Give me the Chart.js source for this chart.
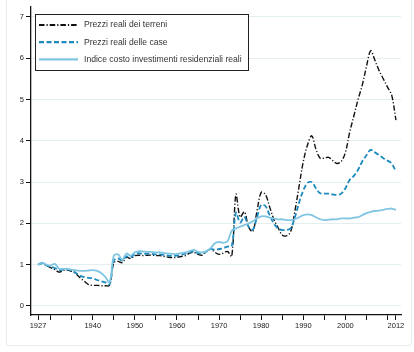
<!DOCTYPE html>
<html>
<head>
<meta charset="utf-8">
<script src="https://cdn.jsdelivr.net/npm/chart.js@4/dist/chart.umd.min.js"></script>
<style>
  html, body { margin: 0; padding: 0; background: #fff; overflow: hidden; }
  #wrap { position: relative; width: 414px; height: 352px; }
  #frame { position: absolute; left: 6px; top: -6px; width: 404px; height: 350px;
           border: 1px solid #e4ecee; border-radius: 3px; }
  canvas { position: absolute; left: 0; top: 0; }
</style>
</head>
<body>
<div id="wrap">
  <div id="frame"></div>
  <canvas id="chart" width="414" height="352"></canvas>
</div>
<script>
const years = [
  1927, 1928, 1929, 1930, 1931, 1932, 1933, 1934, 1935, 1936,
  1937, 1938, 1939, 1940, 1941, 1942, 1943, 1944, 1945, 1946,
  1947, 1948, 1949, 1950, 1951, 1952, 1953, 1954, 1955, 1956,
  1957, 1958, 1959, 1960, 1961, 1962, 1963, 1964, 1965, 1966,
  1967, 1968, 1969, 1970, 1971, 1972, 1973, 1974, 1975, 1976,
  1977, 1978, 1979, 1980, 1981, 1982, 1983, 1984, 1985, 1986,
  1987, 1988, 1989, 1990, 1991, 1992, 1993, 1994, 1995, 1996,
  1997, 1998, 1999, 2000, 2001, 2002, 2003, 2004, 2005, 2006,
  2007, 2008, 2009, 2010, 2011, 2012
];

// Prezzi reali dei terreni
const terreni = [
  1.00, 1.05, 0.98, 0.93, 0.88, 0.82, 0.86, 0.87, 0.84, 0.78,
  0.68, 0.60, 0.52, 0.50, 0.50, 0.49, 0.49, 0.50, 1.05, 1.08,
  1.05, 1.18, 1.15, 1.22, 1.23, 1.22, 1.23, 1.23, 1.22, 1.22,
  1.20, 1.18, 1.17, 1.18, 1.20, 1.22, 1.28, 1.30, 1.25, 1.23,
  1.32, 1.38, 1.30, 1.25, 1.28, 1.32, 1.20, 2.70, 2.15, 2.28,
  1.92, 1.80, 2.30, 2.75, 2.70, 2.40, 2.10, 1.90, 1.72, 1.70,
  1.80, 2.30, 2.90, 3.50, 3.90, 4.12, 3.80, 3.58, 3.58, 3.60,
  3.52, 3.45, 3.50, 3.72, 4.20, 4.60, 5.00, 5.35, 5.80, 6.18,
  5.95, 5.70, 5.50, 5.30, 5.10, 4.50
];

// Prezzi reali delle case
const case_ = [
  1.00, 1.03, 0.98, 0.95, 0.92, 0.87, 0.88, 0.88, 0.86, 0.80,
  0.73, 0.70, 0.68, 0.67, 0.63, 0.60, 0.57, 0.53, 1.10, 1.15,
  1.10, 1.20, 1.18, 1.26, 1.28, 1.26, 1.27, 1.26, 1.25, 1.25,
  1.24, 1.22, 1.21, 1.22, 1.24, 1.27, 1.30, 1.32, 1.28, 1.27,
  1.32, 1.38, 1.36, 1.38, 1.40, 1.44, 1.45, 2.26, 2.02, 2.16,
  1.92, 1.85, 2.15, 2.45, 2.42, 2.20, 2.00, 1.88, 1.84, 1.84,
  1.88, 2.15, 2.50, 2.80, 2.98, 3.00, 2.85, 2.73, 2.72, 2.72,
  2.70, 2.69, 2.72, 2.85, 3.05, 3.15, 3.30, 3.50, 3.65, 3.78,
  3.72, 3.65, 3.58, 3.52, 3.45, 3.25
];

// Indice costo investimenti residenziali reali
const indice = [
  1.00, 1.05, 1.00, 0.98, 1.02, 0.90, 0.90, 0.90, 0.88, 0.86,
  0.85, 0.85, 0.86, 0.87, 0.85, 0.80, 0.70, 0.57, 1.22, 1.25,
  1.12, 1.27, 1.22, 1.30, 1.33, 1.32, 1.31, 1.31, 1.30, 1.30,
  1.28, 1.27, 1.26, 1.26, 1.28, 1.30, 1.33, 1.36, 1.31, 1.30,
  1.33, 1.40, 1.52, 1.55, 1.53, 1.57, 1.82, 1.88, 1.92, 1.96,
  2.00, 2.05, 2.12, 2.17, 2.17, 2.14, 2.12, 2.10, 2.10, 2.08,
  2.08, 2.10, 2.15, 2.20, 2.22, 2.20, 2.15, 2.10, 2.08, 2.09,
  2.10, 2.10, 2.12, 2.12, 2.12, 2.14, 2.15, 2.20, 2.25, 2.28,
  2.30, 2.31, 2.33, 2.35, 2.36, 2.33
];

const seriesNames = [
  'Prezzi reali dei terreni',
  'Prezzi reali delle case',
  'Indice costo investimenti residenziali reali'
];

const xTickValues = [1927, 1930, 1935, 1940, 1945, 1950, 1955, 1960, 1965, 1970,
                     1975, 1980, 1985, 1990, 1995, 2000, 2005, 2010, 2012];
const xTickLabels = ['1927', '1940', '1950', '1960', '1970', '1980', '1990', '2000', '2012'];
const yTickValues = [0, 1, 2, 3, 4, 5, 6, 7];

const FONT = "'Liberation Sans', Arial, sans-serif";

const toPoints = arr => arr.map((v, i) => ({ x: years[i], y: v }));

const styles = [
  { color: '#111111', width: 1.4, dash: [5.5, 2, 1.2, 2] },
  { color: '#1d89bf', width: 1.8, dash: [5, 2.5] },
  { color: '#80c6e3', width: 1.8, dash: [] }
];

// legend drawn in a box inside the plot area
const boxLegend = {
  id: 'boxLegend',
  afterDraw(chart) {
    const ctx = chart.ctx;
    const x = 35.5, y = 14.5, w = 213, h = 56;
    ctx.save();
    ctx.fillStyle = '#fff';
    ctx.fillRect(x, y, w, h);
    ctx.strokeStyle = '#222';
    ctx.lineWidth = 1;
    ctx.strokeRect(x, y, w, h);
    ctx.font = '8.6px ' + FONT;
    ctx.textBaseline = 'middle';
    seriesNames.forEach((name, i) => {
      const ly = 25 + i * 17.2;
      const s = styles[i];
      ctx.beginPath();
      ctx.setLineDash(s.dash);
      ctx.strokeStyle = s.color;
      ctx.lineWidth = s.width + 0.4;
      ctx.moveTo(39, ly);
      ctx.lineTo(78, ly);
      ctx.stroke();
      ctx.setLineDash([]);
      ctx.fillStyle = '#333';
      ctx.fillText(name, 84, ly);
    });
    ctx.restore();
  }
};

const datasets = [terreni, case_, indice].map((arr, i) => ({
  label: seriesNames[i],
  data: toPoints(arr),
  borderColor: styles[i].color,
  borderWidth: styles[i].width,
  borderDash: styles[i].dash,
  pointRadius: 0,
  fill: false,
  tension: 0.35
})).reverse();

new Chart(document.getElementById('chart'), {
  type: 'line',
  data: { datasets },
  options: {
    responsive: false,
    animation: false,
    layout: { padding: { left: 0, right: 13, top: 7, bottom: 0 } },
    plugins: {
      legend: { display: false },
      tooltip: { enabled: false }
    },
    scales: {
      x: {
        type: 'linear',
        min: 1925.33,
        max: 2013.2,
        afterFit(scale) { scale.height = 37; },
        afterBuildTicks(scale) { scale.ticks = xTickValues.map(v => ({ value: v })); },
        grid: { drawOnChartArea: false, drawTicks: true, tickLength: 5, tickColor: '#111', tickWidth: 1 },
        border: { color: '#111', width: 1.3 },
        ticks: {
          autoSkip: false,
          maxRotation: 0,
          padding: 1,
          color: '#222',
          font: { family: FONT, size: 7.5 },
          callback: v => xTickLabels.includes(String(v)) ? String(v) : ''
        }
      },
      y: {
        min: -0.218,
        max: 7.24,
        afterFit(scale) { scale.width = 31; },
        afterBuildTicks(scale) { scale.ticks = yTickValues.map(v => ({ value: v })); },
        grid: { color: '#e4eef1', lineWidth: 1, drawTicks: true, tickLength: 5, tickColor: '#111', tickWidth: 1 },
        border: { color: '#111', width: 1.3 },
        ticks: {
          padding: 2,
          color: '#222',
          font: { family: FONT, size: 7.5 },
          callback: v => String(v)
        }
      }
    }
  },
  plugins: [boxLegend]
});
</script>
</body>
</html>
